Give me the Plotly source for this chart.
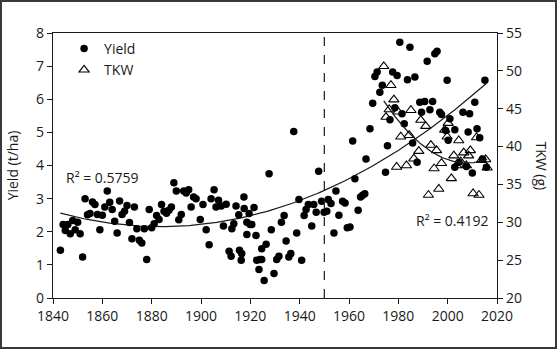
import numpy as np
import plotly.graph_objects as go

# Grain yield observations (year, t/ha)
yield_year = [
    1843.0, 1844.1, 1845.0, 1846.0, 1847.0, 1848.0, 1849.0, 1850.0, 1851.0, 1852.0,
    1853.0, 1854.0, 1855.0, 1856.0, 1857.0, 1858.0, 1859.0, 1860.0, 1861.0, 1862.0,
    1863.0, 1864.0, 1865.0, 1866.0, 1867.0, 1868.0, 1869.0, 1870.0, 1871.0, 1872.0,
    1873.0, 1874.0, 1875.0, 1876.0, 1877.0, 1878.0, 1879.0, 1880.0, 1881.0, 1882.0,
    1883.0, 1884.0, 1885.0, 1886.0, 1887.0, 1888.0, 1889.0, 1890.0, 1891.0, 1892.0,
    1893.0, 1894.0, 1895.0, 1896.0, 1897.0, 1898.0, 1899.7, 1900.8,
    1902.1, 1903.3, 1904.1, 1905.3, 1906.1, 1907.1, 1908.2, 1909.1, 1910.2, 1911.4,
    1912.2, 1912.5, 1913.3, 1914.2, 1915.3, 1915.6, 1916.3, 1916.5, 1917.4, 1917.5,
    1918.6, 1918.6, 1919.5, 1919.9, 1920.6, 1921.5, 1922.3, 1922.6, 1923.5, 1923.9,
    1924.6, 1924.6, 1925.6, 1926.4, 1927.6, 1928.5, 1929.6, 1930.7, 1931.6, 1932.6,
    1933.7, 1934.5, 1935.6, 1936.4, 1937.6, 1938.8, 1939.7, 1940.8, 1941.8, 1942.6,
    1943.5, 1944.9, 1945.7, 1946.7, 1947.7, 1948.9, 1949.9, 1951.0, 1951.6, 1952.7,
    1953.9, 1954.7, 1955.9, 1957.4, 1958.4, 1959.3, 1960.4, 1961.5, 1962.4, 1963.7,
    1964.7, 1965.5, 1966.4, 1966.9, 1968.5, 1969.6, 1970.5, 1971.4, 1972.5, 1973.5,
    1974.8, 1975.6, 1976.6, 1977.7, 1978.6, 1979.5, 1980.6, 1981.5, 1982.4, 1983.7,
    1984.7, 1985.8, 1986.7, 1987.6, 1988.7, 1989.4, 1990.7, 1991.7, 1992.8, 1993.9,
    1994.8, 1995.7, 1996.8, 1997.5, 1999.2, 1999.8, 2000.2, 2000.9, 2002.9, 2002.9,
    2004.6, 2006.2, 2007.6, 2008.3, 2008.9, 2010.0, 2011.0, 2011.9, 2013.0, 2014.1,
    2015.1, 2015.7,
]
yield_tha = [
    1.44, 2.22, 2.04, 2.22, 1.94, 2.34, 2.06, 2.29, 1.94, 1.24,
    3.00, 2.51, 2.55, 2.90, 2.82, 2.52, 2.06, 2.50, 2.75, 3.23,
    2.89, 2.67, 2.32, 1.96, 2.93, 2.52, 2.62, 2.79, 2.28, 1.79,
    2.75, 2.09, 1.74, 1.66, 2.09, 1.16, 2.67, 2.12, 2.24, 2.49,
    2.37, 2.82, 2.62, 2.56, 2.65, 2.75, 3.48, 3.23, 2.36, 2.52,
    3.23, 3.17, 3.27, 2.75, 3.05, 3.00, 2.37, 2.82,
    2.06, 1.61, 3.00, 3.27, 2.75, 2.95, 2.78, 2.17, 2.83, 1.41,
    1.26, 2.09, 2.24, 2.78, 2.51, 1.44, 1.14, 1.34, 3.05, 2.70,
    2.29, 1.92, 2.55, 2.22, 2.22, 2.73, 1.89, 1.14, 0.86, 1.16,
    1.16, 1.49, 0.53, 1.62, 3.75, 2.06, 0.74, 1.16, 1.26, 2.29,
    2.49, 1.72, 1.24, 1.34, 5.03, 1.96, 2.97, 1.14, 2.49, 2.67,
    2.82, 2.17, 2.82, 2.59, 3.83, 2.92, 2.59, 2.62, 2.97, 2.85,
    1.96, 3.23, 2.50, 2.92, 2.87, 2.12, 2.14, 4.74, 3.60, 2.65,
    3.05, 3.10, 3.15, 4.20, 5.11, 5.88, 6.69, 6.82, 6.21, 6.42,
    3.80, 4.60, 5.38, 6.82, 5.74, 6.72, 7.72, 5.56, 5.26, 6.59,
    7.57, 4.68, 6.67, 4.10, 5.91, 5.61, 5.93, 7.15, 5.68, 5.93,
    7.37, 7.45, 5.61, 5.54, 5.06, 6.57, 4.76, 5.41, 3.95, 5.08,
    4.10, 5.61, 3.97, 5.01, 5.56, 3.77, 5.91, 5.11, 4.84, 4.20,
    6.57, 3.95,
]

# Thousand-kernel weight observations (year, g)
tkw_year = [
    1974.1, 1975.0, 1976.3, 1977.0, 1978.2, 1979.3, 1979.9, 1981.0, 1983.3, 1984.4,
    1985.1, 1986.3, 1988.3, 1989.1, 1991.1, 1992.2, 1993.2, 1994.5, 1995.5, 1996.4,
    1997.5, 1998.8, 1999.8, 2000.2, 2001.5, 2002.5, 2003.6, 2004.5, 2005.3, 2006.5,
    2007.6, 2008.5, 2009.2, 2010.3, 2011.7, 2012.7, 2013.7, 2015.4, 2016.0,
]
tkw_g = [
    50.6, 43.9, 44.9, 48.1, 46.2, 37.3, 44.6, 41.3, 37.5, 41.5,
    44.8, 38.4, 39.4, 43.5, 42.7, 33.6, 40.2, 37.1, 39.5, 34.4,
    37.8, 42.2, 41.3, 43.1, 35.8, 38.8, 37.5, 40.8, 38.0, 39.2,
    37.5, 38.8, 39.5, 33.8, 41.2, 33.6, 38.2, 38.3, 37.2,
]

r2_yield = "R² = 0.5759"
r2_tkw = "R² = 0.4192"
year_ticks = list(range(1840, 2021, 20))

FONT = "Open Sans"
INK = "#1a1a1a"

# Second-order polynomial trends
yc = np.polyfit(yield_year, yield_tha, 2)
yx = np.linspace(min(yield_year), max(yield_year), 200)
tc = np.polyfit(tkw_year, tkw_g, 2)
tx = np.linspace(min(tkw_year), max(tkw_year), 100)

fig = go.Figure()
fig.add_trace(go.Scatter(
    x=yx, y=np.polyval(yc, yx), mode="lines",
    line=dict(color=INK, width=1.2), showlegend=False, hoverinfo="skip"))
fig.add_trace(go.Scatter(
    x=yield_year, y=yield_tha, mode="markers", name="Yield",
    marker=dict(symbol="circle", size=7.5, color="black")))
fig.add_trace(go.Scatter(
    x=tkw_year, y=tkw_g, mode="markers", name="TKW", yaxis="y2",
    marker=dict(symbol="triangle-up-open", size=9, color="black",
                line=dict(width=1.1, color="black"))))
fig.add_trace(go.Scatter(
    x=tx, y=np.polyval(tc, tx), mode="lines", yaxis="y2",
    line=dict(color=INK, width=1.3), showlegend=False, hoverinfo="skip"))

axis_common = dict(
    showline=True, linecolor=INK, linewidth=1.2, ticks="outside",
    ticklen=5, tickwidth=1.2, tickcolor=INK, showgrid=False, zeroline=False,
    tickfont=dict(family=FONT, size=14, color=INK),
)

fig.update_layout(
    width=557, height=349,
    margin=dict(l=53, r=60, t=33, b=51),
    paper_bgcolor="white", plot_bgcolor="white",
    font=dict(family=FONT, size=14, color=INK),
    xaxis=dict(range=[1840, 2020], tickvals=year_ticks, mirror=True, **axis_common),
    yaxis=dict(range=[0, 8], dtick=1,
               title=dict(text="Yield (t/ha)", standoff=14,
                          font=dict(family=FONT, size=14, color=INK)),
               **axis_common),
    yaxis2=dict(range=[20, 55], dtick=5, overlaying="y", side="right",
                **axis_common),
    legend=dict(x=0.025, y=1.0, xanchor="left", yanchor="top",
                bgcolor="rgba(0,0,0,0)", font=dict(family=FONT, size=14, color=INK),
                itemwidth=30),
    shapes=[
        dict(type="line", xref="x", yref="paper", x0=1950, x1=1950, y0=0, y1=1,
             line=dict(color=INK, width=1.2, dash="dash")),
        dict(type="rect", xref="paper", yref="paper",
             x0=(1 - 53) / 444, x1=(556 - 53) / 444,
             y0=(298 - 348) / 265, y1=(298 - 1) / 265,
             line=dict(color="#3a3a3a", width=2)),
    ],
    annotations=[
        dict(text=r2_yield, x=1844.6, y=3.64, xref="x", yref="y",
             xanchor="left", yanchor="middle", showarrow=False,
             font=dict(family=FONT, size=14, color=INK)),
        dict(text=r2_tkw, x=2017.5, y=2.34, xref="x", yref="y",
             xanchor="right", yanchor="middle", showarrow=False,
             font=dict(family=FONT, size=14, color=INK)),
        dict(text="TKW (g)", textangle=90, x=(541 - 53) / 444, y=0.50,
             xref="paper", yref="paper", showarrow=False,
             xanchor="center", yanchor="middle",
             font=dict(family=FONT, size=14, color=INK)),
    ],
)

fig.write_html("out.html")
